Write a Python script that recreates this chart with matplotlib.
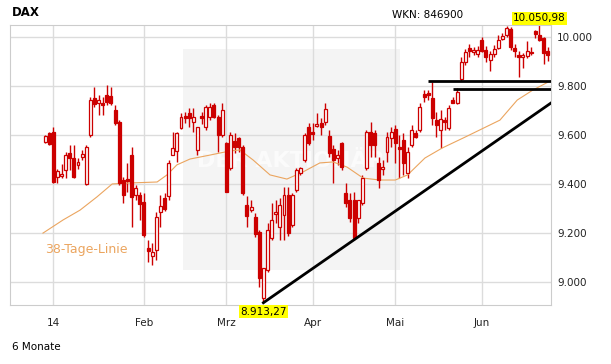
import matplotlib.pyplot as plt
from matplotlib.patches import Rectangle

# DAX, 6 Monate, Tageskerzen (Index 0 = 27.12.2013)
opens = [9570, 9607, 9611, 9427, 9431, 9456, 9525, 9505, 9476, 9510,
         9399, 9599, 9750, 9730, 9730, 9762, 9758, 9701, 9652, 9415,
         9419, 9517, 9354, 9354, 9325, 9137, 9105, 9129, 9284, 9342,
         9350, 9517, 9534, 9628, 9677, 9689, 9652, 9538, 9677, 9632,
         9673, 9722, 9673, 9599, 9567, 9464, 9575, 9587, 9550, 9313,
         9292, 9264, 9202, 8933, 9047, 9178, 9276, 9223, 9272, 9354,
         9231, 9374, 9444, 9497, 9632, 9611, 9636, 9648, 9652, 9595,
         9542, 9505, 9567, 9362, 9333, 9333, 9260, 9321, 9464, 9611,
         9607, 9485, 9460, 9530, 9587, 9624, 9550, 9579, 9444, 9558,
         9607, 9620, 9767, 9771, 9750, 9660, 9620, 9660, 9628, 9742,
         9730, 9828, 9898, 9955, 9939, 9931, 9988, 9947, 9906, 9931,
         9955, 9992, 10008, 10033, 9955, 9926, 9918, 9922, 9939, 10025,
         10008, 9996, 9943]
highs = [9600, 9611, 9632, 9460, 9480, 9530, 9558, 9558, 9505, 9538,
         9558, 9754, 9795, 9762, 9754, 9803, 9795, 9720, 9660, 9427,
         9484, 9550, 9395, 9366, 9362, 9170, 9157, 9284, 9354, 9362,
         9497, 9611, 9611, 9689, 9693, 9709, 9709, 9632, 9693, 9722,
         9730, 9730, 9681, 9730, 9571, 9611, 9607, 9591, 9558, 9350,
         9333, 9280, 9211, 9055, 9239, 9321, 9333, 9342, 9387, 9387,
         9362, 9464, 9468, 9607, 9648, 9648, 9689, 9669, 9730, 9620,
         9558, 9538, 9571, 9403, 9362, 9366, 9333, 9436, 9620, 9652,
         9620, 9509, 9497, 9611, 9632, 9640, 9599, 9607, 9550, 9640,
         9620, 9730, 9783, 9783, 9816, 9693, 9701, 9673, 9722, 9754,
         9791, 9918, 9951, 9971, 9959, 9963, 10000, 9963, 9943, 9967,
         10008, 10016, 10045, 10041, 9971, 9943, 9935, 9984, 9959, 10029,
         10050.98, 10000, 9959]
lows = [9565, 9558, 9403, 9403, 9423, 9423, 9456, 9423, 9460, 9497,
        9395, 9591, 9713, 9681, 9681, 9722, 9722, 9640, 9395, 9321,
        9366, 9223, 9333, 9251, 9182, 9080, 9068, 9088, 9223, 9288,
        9333, 9517, 9489, 9624, 9648, 9632, 9611, 9517, 9644, 9620,
        9660, 9669, 9530, 9591, 9366, 9456, 9526, 9530, 9354, 9223,
        9284, 9182, 8978, 8913.27, 9039, 9170, 9239, 9170, 9170, 9186,
        9223, 9366, 9435, 9489, 9558, 9579, 9632, 9599, 9640, 9509,
        9403, 9476, 9456, 9305, 9243, 9170, 9239, 9313, 9456, 9509,
        9509, 9382, 9436, 9489, 9550, 9485, 9423, 9436, 9423, 9550,
        9587, 9611, 9734, 9742, 9640, 9591, 9546, 9620, 9620, 9730,
        9726, 9820, 9886, 9918, 9926, 9918, 9939, 9898, 9861, 9918,
        9951, 9988, 10000, 9947, 9918, 9837, 9873, 9914, 9926, 9996,
        9984, 9890, 9902]
closes = [9596, 9562, 9407, 9451, 9440, 9517, 9505, 9427, 9489, 9522,
          9550, 9742, 9726, 9742, 9722, 9734, 9730, 9648, 9403, 9354,
          9411, 9345, 9382, 9317, 9190, 9125, 9121, 9264, 9309, 9297,
          9485, 9546, 9607, 9673, 9669, 9669, 9673, 9632, 9669, 9714,
          9714, 9673, 9599, 9701, 9366, 9599, 9550, 9550, 9362, 9268,
          9305, 9194, 9014, 9055, 9211, 9252, 9284, 9313, 9354, 9198,
          9354, 9456, 9464, 9599, 9567, 9603, 9644, 9632, 9705, 9526,
          9497, 9517, 9468, 9321, 9260, 9178, 9333, 9423, 9611, 9558,
          9558, 9415, 9468, 9591, 9611, 9567, 9542, 9485, 9530, 9620,
          9591, 9714, 9754, 9762, 9669, 9640, 9664, 9652, 9709, 9730,
          9775, 9898, 9939, 9943, 9947, 9947, 9943, 9918, 9931, 9951,
          9988, 10004, 10037, 9959, 9943, 9918, 9926, 9943, 9935, 10012,
          9988, 9935, 9926]

ma_idx = [-0.5, 4.4, 8.5, 12.6, 16.3, 20.6, 27.2, 29.6, 32, 35.2, 40, 44.9,
          47.3, 50.5, 54.6, 58.7, 62.6, 66.7, 69.9, 73.3, 77.2, 81.3, 85,
          88, 92.2, 96.4, 102, 110.4, 114.6, 118.4, 122.6]
ma_val = [9198, 9252, 9292, 9346, 9399, 9403, 9407, 9436, 9477, 9501, 9517,
          9534, 9538, 9497, 9436, 9419, 9448, 9485, 9489, 9468, 9423, 9415,
          9415, 9436, 9505, 9546, 9591, 9660, 9742, 9783, 9820]

# Monatsanfaenge (Index des ersten Handelstages)
month_idx = [2, 24, 44, 65, 85, 106]
month_labels = ['14', 'Feb', 'Mrz', 'Apr', 'Mai', 'Jun']
y_ticks = [9000, 9200, 9400, 9600, 9800, 10000]

# Analyse-Linien
res_levels = [9820, 9787]
res_start = [93, 99]
trend_start = (53, 8913.27)
trend_end = (122.8, 9730)

red = '#cc0000'
orange = '#eba55f'

def de_num(v, d=0):
    s = f"{v:,.{d}f}"
    return s.replace(',', 'X').replace('.', ',').replace('X', '.')

fig = plt.figure(figsize=(6.11, 3.64), dpi=100)
ax = fig.add_axes([10 / 611, 59 / 364, 541 / 611, 280 / 364])

ax.set_xlim(-8.5, 122.8)
ax.set_ylim(8904, 10049)

# Wasserzeichen
ax.add_patch(Rectangle((0.32, 0.125), 0.40, 0.79, transform=ax.transAxes,
                       facecolor='#f4f4f4', edgecolor='none', zorder=0.1))
ax.text(0.52, 0.515, 'DER AKTIONÄR', transform=ax.transAxes, ha='center',
        va='center', fontsize=16, fontweight='bold', color='#fbfbfb',
        zorder=0.2)

n = len(opens)
xs = list(range(n))
ax.vlines(xs, lows, highs, color=red, lw=1, zorder=2)
for i in xs:
    o, c = opens[i], closes[i]
    lo = min(o, c)
    h = max(abs(c - o), 3)
    fc = 'white' if c >= o else red
    ax.bar(i, h, bottom=lo, width=0.72, facecolor=fc, edgecolor=red,
           lw=0.9, zorder=3)

ax.plot(ma_idx, ma_val, color=orange, lw=0.8, zorder=2.5)
ax.text(0, 9130, '38-Tage-Linie', color=orange, fontsize=9,
        ha='left', va='center')

for lvl, s in zip(res_levels, res_start):
    ax.plot([s, 122.8], [lvl, lvl], color='black', lw=2, zorder=4,
            solid_capstyle='butt')
ax.plot([trend_start[0], trend_end[0]], [trend_start[1], trend_end[1]],
        color='black', lw=2, zorder=4)

# Hoch / Tief
hi_i = highs.index(max(highs))
lo_i = lows.index(min(lows))
box = dict(boxstyle='square,pad=0.15', fc='#ffff00', ec='none')
ax.annotate(de_num(highs[hi_i], 2), (hi_i, highs[hi_i]), xytext=(0, 1),
            textcoords='offset points', ha='center', va='bottom',
            fontsize=7.5, bbox=box, annotation_clip=False, zorder=6)
ax.annotate(de_num(lows[lo_i], 2), (lo_i, lows[lo_i]), xytext=(0, -3),
            textcoords='offset points', ha='center', va='top',
            fontsize=7.5, bbox=box, annotation_clip=False, zorder=6)

ax.set_xticks(month_idx)
ax.set_xticklabels(month_labels)
ax.set_yticks(y_ticks)
ax.set_yticklabels([de_num(v) for v in y_ticks])
ax.yaxis.tick_right()
ax.tick_params(axis='both', length=0, labelsize=7.5, colors='#222222')
ax.tick_params(axis='y', pad=4.5)
ax.tick_params(axis='x', pad=9)
ax.grid(True, color='#dcdcdc', lw=1)
ax.set_axisbelow(True)
for sp in ax.spines.values():
    sp.set_color('#cccccc')

fig.text(12 / 611, 1 - 13 / 364, 'DAX', fontsize=8.5, fontweight='bold',
         ha='left', va='center')
fig.text(392 / 611, 1 - 15 / 364, 'WKN: 846900', fontsize=7.5,
         ha='left', va='center')
fig.text(12 / 611, 1 - 347 / 364, '6 Monate', fontsize=7.5,
         ha='left', va='center')

fig.savefig('out.png', dpi=100)
